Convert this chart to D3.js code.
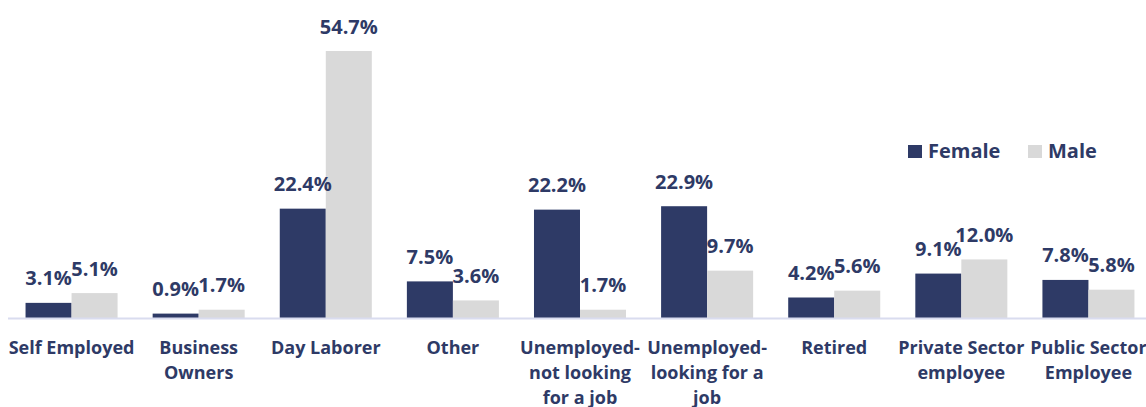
<!DOCTYPE html>
<html>
<head>
<meta charset="utf-8">
<script src="https://cdn.jsdelivr.net/npm/d3@7"></script>
<style>
  html, body { margin: 0; padding: 0; background: #ffffff; }
  svg { display: block; font-family: "Open Sans", "Noto Sans", sans-serif; font-weight: 700; }
</style>
</head>
<body>
<svg id="chart" width="1146" height="407"></svg>
<script>
// Employment status by gender (percent of respondents)
const categories = [
  "Self Employed",
  "Business\nOwners",
  "Day Laborer",
  "Other",
  "Unemployed-\nnot looking\nfor a job",
  "Unemployed-\nlooking for a\njob",
  "Retired",
  "Private Sector\nemployee",
  "Public Sector\nEmployee"
];
const seriesNames = ["Female", "Male"];
const female = [3.1, 0.9, 22.4, 7.5, 22.2, 22.9, 4.2, 9.1, 7.8];
const male   = [5.1, 1.7, 54.7, 3.6, 1.7, 9.7, 5.6, 12.0, 5.8];

const colors = { Female: "#2E3A66", Male: "#D9D9D9" };
const textColor = "#2E3A66";

const svg = d3.select("#chart");
const width = 1146;
const baseY = 318;

const x0 = d3.scaleBand()
  .domain(categories)
  .range([8, 1152])
  .paddingInner(0.276)
  .paddingOuter(0.138);

const x1 = d3.scaleBand()
  .domain(seriesNames)
  .range([0, x0.bandwidth()]);

const y = d3.scaleLinear()
  .domain([0, 54.7])
  .range([baseY, 51]);

const rows = categories.map((c, i) => ({ cat: c, values: [
  { key: "Female", v: female[i] },
  { key: "Male", v: male[i] }
]}));

const groups = svg.append("g").selectAll("g")
  .data(rows)
  .join("g")
  .attr("transform", d => `translate(${x0(d.cat)},0)`);

groups.selectAll("rect")
  .data(d => d.values)
  .join("rect")
  .attr("x", d => x1(d.key))
  .attr("y", d => y(d.v))
  .attr("width", x1.bandwidth())
  .attr("height", d => baseY - y(d.v))
  .attr("fill", d => colors[d.key]);

groups.selectAll("text.val")
  .data(d => d.values)
  .join("text")
  .attr("class", "val")
  .attr("x", d => x1(d.key) + x1.bandwidth() / 2)
  .attr("y", d => y(d.v) - 17.5)
  .attr("text-anchor", "middle")
  .attr("font-size", 20)
  .attr("fill", textColor)
  .text(d => d.v.toFixed(1) + "%");

// Category axis
const axis = svg.append("g")
  .attr("transform", `translate(0,${baseY})`)
  .call(d3.axisBottom(x0).tickSize(0).tickPadding(0));
axis.select(".domain").remove();
axis.append("line")
  .attr("x1", 8).attr("x2", width)
  .attr("y1", 0.5).attr("y2", 0.5)
  .attr("stroke", "#D9DCEF")
  .attr("stroke-width", 2);

axis.selectAll(".tick text")
  .attr("font-family", "'Open Sans', 'Noto Sans', sans-serif")
  .attr("font-weight", 700)
  .attr("font-size", 18)
  .attr("fill", textColor)
  .attr("y", 0)
  .attr("dy", null)
  .each(function(d) {
    const t = d3.select(this);
    t.text(null);
    d.split("\n").forEach((line, i) => {
      t.append("tspan")
        .attr("x", 0)
        .attr("y", 36 + i * 25)
        .text(line);
    });
  });

// Legend
const legend = svg.append("g");
const legendItems = [
  { key: "Female", x: 908 },
  { key: "Male", x: 1028 }
];
legendItems.forEach(item => {
  legend.append("rect")
    .attr("x", item.x).attr("y", 145)
    .attr("width", 14).attr("height", 13)
    .attr("fill", colors[item.key]);
  legend.append("text")
    .attr("x", item.x + 20).attr("y", 158)
    .attr("font-size", 20)
    .attr("fill", textColor)
    .text(item.key);
});
</script>
</body>
</html>
